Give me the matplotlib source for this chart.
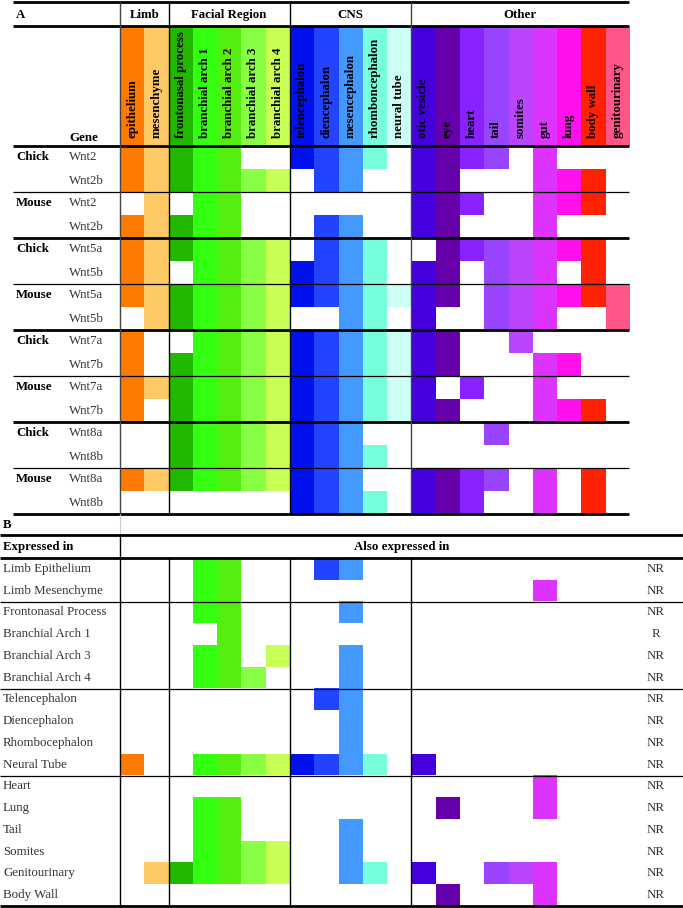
import numpy as np
import matplotlib.pyplot as plt
from matplotlib.colors import to_rgba

plt.rcParams['font.family'] = ['Liberation Serif', 'DejaVu Serif']
plt.rcParams['font.size'] = 9.3

groups = ['Limb', 'Facial Region', 'CNS', 'Other']
group_sizes = [2, 5, 5, 9]
tissues = ['epithelium', 'mesenchyme', 'frontonasal process', 'branchial arch 1',
           'branchial arch 2', 'branchial arch 3', 'branchial arch 4',
           'telencephalon', 'diencephalon', 'mesencephalon', 'rhomboncephalon',
           'neural tube', 'otic vesicle', 'eye', 'heart', 'tail', 'somites',
           'gut', 'lung', 'body wall', 'genitourinary']
tissue_colors = ['#ff7a00', '#ffc966', '#22b800', '#33ff11', '#55ee11', '#88ff44',
                 '#c8ff55', '#0011ee', '#2244ff', '#4499ff', '#77ffdd', '#ccfff5',
                 '#4400dd', '#6600aa', '#8822ff', '#9944ff', '#bb44ff', '#dd33ff',
                 '#ff11ee', '#ff2200', '#ff5588']

species = ['Chick', '', 'Mouse', '', 'Chick', '', 'Mouse', '',
           'Chick', '', 'Mouse', '', 'Chick', '', 'Mouse', '']
genes = ['Wnt2', 'Wnt2b', 'Wnt2', 'Wnt2b', 'Wnt5a', 'Wnt5b', 'Wnt5a', 'Wnt5b',
         'Wnt7a', 'Wnt7b', 'Wnt7a', 'Wnt7b', 'Wnt8a', 'Wnt8b', 'Wnt8a', 'Wnt8b']
# limb | facial | CNS | other
expr_a = ['11 11100 11110 111101000',
          '11 11111 01100 110001110',
          '01 01100 00000 111001110',
          '11 11100 01100 110001000',
          '11 11111 01110 011111110',
          '11 01111 11110 110111010',
          '11 11111 11111 110111111',
          '01 11111 00110 100111001',
          '10 01111 11111 110010000',
          '10 11111 11111 110001100',
          '11 11111 11111 101001000',
          '10 11111 11111 110001110',
          '00 11111 11100 000100000',
          '00 11111 11110 000000000',
          '11 11111 11100 111101010',
          '00 00000 11110 111001010']

expressed_in = ['Limb Epithelium', 'Limb Mesenchyme', 'Frontonasal Process',
                'Branchial Arch 1', 'Branchial Arch 3', 'Branchial Arch 4',
                'Telencephalon', 'Diencephalon', 'Rhombocephalon', 'Neural Tube',
                'Heart', 'Lung', 'Tail', 'Somites', 'Genitourinary', 'Body Wall']
expr_b = ['00 01100 01100 000000000',
          '00 01100 00000 000001000',
          '00 01100 00100 000000000',
          '00 00100 00000 000000000',
          '00 01101 00100 000000000',
          '00 01110 00100 000000000',
          '00 00000 01100 000000000',
          '00 00000 00100 000000000',
          '00 00000 00100 000000000',
          '10 01111 11110 100000000',
          '00 00000 00000 000001000',
          '00 01100 00000 010001000',
          '00 01100 00100 000000000',
          '00 01111 00100 000000000',
          '01 11111 00110 100111000',
          '00 00000 00000 010001000']
regulation = ['NR', 'NR', 'NR', 'R', 'NR', 'NR', 'NR', 'NR', 'NR', 'NR',
              'NR', 'NR', 'NR', 'NR', 'NR', 'NR']

# layout (pixels)
W, H = 683, 908
X0, COLW = 120, 24.25
A_TOP, A_ROWH = 146, 23.0
B_TOP, B_ROWH = 558, 21.75
X1 = X0 + COLW * len(tissues)


def to_image(rows):
    m = np.array([[int(c) for c in r.replace(' ', '')] for r in rows])
    img = np.ones(m.shape + (4,))
    cols = np.array([to_rgba(c) for c in tissue_colors])
    img[m == 1] = np.broadcast_to(cols, img.shape)[m == 1]
    return img


fig = plt.figure(figsize=(W / 100, H / 100), dpi=100)
ax = fig.add_axes([0, 0, 1, 1])
ax.set_xlim(0, W)
ax.set_ylim(H, 0)
ax.axis('off')

A_BOT = A_TOP + A_ROWH * len(genes)
B_BOT = B_TOP + B_ROWH * len(expressed_in)

# header colour band + expression cells
band = np.array([[to_rgba(c) for c in tissue_colors]])
ax.imshow(band, extent=(X0, X1, A_TOP, 27), aspect='auto', interpolation='nearest')
ax.imshow(to_image(expr_a), extent=(X0, X1, A_BOT, A_TOP), aspect='auto',
          interpolation='nearest')
ax.imshow(to_image(expr_b), extent=(X0, X1, B_BOT, B_TOP), aspect='auto',
          interpolation='nearest')

# group headers
edges = X0 + COLW * np.concatenate([[0], np.cumsum(group_sizes)])
ax.text(16, 15, 'A', weight='bold', va='center')
for g, l, r in zip(groups, edges[:-1], edges[1:]):
    ax.text((l + r) / 2, 15, g, weight='bold', ha='center', va='center')
ax.text(69, 141, 'Gene', weight='bold', va='baseline')
for i, t in enumerate(tissues):
    ax.text(X0 + COLW * (i + 0.5), 138, t, weight='bold', rotation=90,
            ha='center', va='bottom')

for i, (s, g) in enumerate(zip(species, genes)):
    yc = A_TOP + A_ROWH * (i + 0.5)
    ax.text(16, yc, s, weight='bold', va='center')
    ax.text(69, yc, g, color='#333333', va='center')

# section B text
ax.text(3, 525, 'B', weight='bold', va='center')
ax.text(3, 547, 'Expressed in', weight='bold', va='center')
ax.text((X0 + W) / 2, 547, 'Also expressed in', weight='bold', ha='center', va='center')
for i, (e, r) in enumerate(zip(expressed_in, regulation)):
    yc = B_TOP + B_ROWH * (i + 0.5)
    ax.text(3, yc, e, color='#333333', va='center')
    ax.text(656, yc, r, color='#333333', ha='center', va='center')

# rules, section A
ax.hlines([1.5, 26, A_TOP], 13, X1, color='black', lw=2.0)
for k in range(1, 9):
    y = A_TOP + A_ROWH * 2 * k
    ax.hlines(y, 13, X1, color='black', lw=2.0 if k % 2 == 0 else 0.9)
ax.vlines([X0, edges[3]], 2, A_BOT, color='#444444', lw=1.0)
ax.vlines(edges[1:3], 2, A_BOT, color='black', lw=1.0)
ax.vlines(X0, A_BOT, B_TOP - 23, color='#cccccc', lw=0.8)

# rules, section B
ax.hlines([B_TOP - 23, B_TOP, B_BOT], 0, W, color='black', lw=2.0)
for k in [2, 6, 10]:
    ax.hlines(B_TOP + B_ROWH * k, 0, W, color='black', lw=0.9)
ax.vlines(X0, B_TOP - 23, B_BOT, color='black', lw=1.0)
ax.vlines(edges[1:4], B_TOP, B_BOT, color='black', lw=1.0)

plt.savefig('out.png', dpi=100)
